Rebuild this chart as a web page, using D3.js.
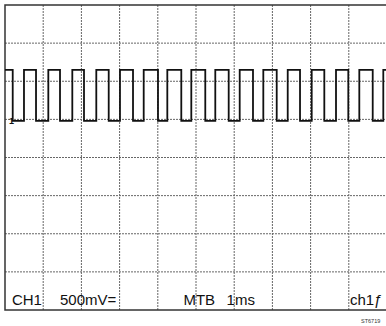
<!DOCTYPE html>
<html>
<head>
<meta charset="utf-8">
<script src="https://cdn.jsdelivr.net/npm/d3@7"></script>
<style>
  html, body { margin: 0; padding: 0; background: #fff; }
  svg { display: block; }
</style>
</head>
<body>
<script>
// ---- data (time in ms, voltage in V; 1 ms/div, 500 mV/div) ----
const xGrid = [0, 1, 2, 3, 4, 5, 6, 7, 8, 9, 10];
const yGrid = [-2, -1.5, -1, -0.5, 0, 0.5, 1, 1.5, 2];
const highLevel = 1.15;
const lowLevel = 0.48;
const risingEdges = [0.497, 1.134, 1.762, 2.390, 3.010, 3.631, 4.249, 4.877, 5.505, 6.144, 6.762, 7.401, 8.029, 8.665, 9.275, 9.903];
const fallingEdges = [0.202, 0.812, 1.440, 2.068, 2.715, 3.351, 4.005, 4.615, 5.243, 5.856, 6.492, 7.113, 7.723, 8.359, 8.987, 9.626];
const labels = ["CH1", "500mV=", "MTB", "1ms", "ch1\u0192"];
const labelTimes = [0.18, 1.44, 4.67, 5.80, 9.03];
const figureId = "ST6719";

const W = 386, H = 326;
const svg = d3.select("body").append("svg").attr("width", W).attr("height", H);

const x = d3.scaleLinear().domain([0, 10]).range([5, 387]);
const y = d3.scaleLinear().domain([-2, 2]).range([310, 5]);

// grid
const g = svg.append("g");
g.selectAll("line.v").data(xGrid.slice(1, -1)).join("line")
  .attr("x1", d => x(d)).attr("x2", d => x(d))
  .attr("y1", y(2)).attr("y2", y(-2))
  .attr("stroke", "#666").attr("stroke-width", 1).attr("stroke-dasharray", "2,1");
g.selectAll("line.h").data(yGrid.slice(1, -1)).join("line")
  .attr("x1", x(0)).attr("x2", x(10))
  .attr("y1", d => y(d)).attr("y2", d => y(d))
  .attr("stroke", "#666").attr("stroke-width", 1).attr("stroke-dasharray", "2,1");

// frame
svg.append("rect")
  .attr("x", x(0)).attr("y", y(2))
  .attr("width", x(10) - x(0)).attr("height", y(-2) - y(2))
  .attr("fill", "none").attr("stroke", "#333").attr("stroke-width", 1.5);

// waveform
const edges = risingEdges.map(t => ({ t, v: highLevel }))
  .concat(fallingEdges.map(t => ({ t, v: lowLevel })))
  .sort((a, b) => a.t - b.t);
const pts = [{ t: 0, v: highLevel }].concat(edges);
pts.push({ t: 10, v: pts[pts.length - 1].v });

const line = d3.line().x(d => x(d.t)).y(d => y(d.v)).curve(d3.curveStepAfter);
svg.append("path").datum(pts)
  .attr("d", line)
  .attr("fill", "none").attr("stroke", "#111").attr("stroke-width", 1.8);

// ground marker
svg.append("text").attr("x", x(0) + 4).attr("y", y(lowLevel) + 3)
  .attr("font-family", "Liberation Sans, Arial, sans-serif")
  .attr("font-size", 9).attr("font-weight", "bold").attr("fill", "#111")
  .text("1");

// labels
svg.selectAll("text.lbl").data(labels).join("text")
  .attr("class", "lbl")
  .attr("x", (d, i) => x(labelTimes[i]))
  .attr("y", 305)
  .attr("font-family", "Liberation Sans, Arial, sans-serif")
  .attr("font-size", 15).attr("fill", "#111")
  .text(d => d);

svg.append("text").attr("x", 361).attr("y", 323)
  .attr("font-family", "Liberation Sans, Arial, sans-serif")
  .attr("font-size", 5.5).attr("fill", "#333")
  .text(figureId);
</script>
</body>
</html>
